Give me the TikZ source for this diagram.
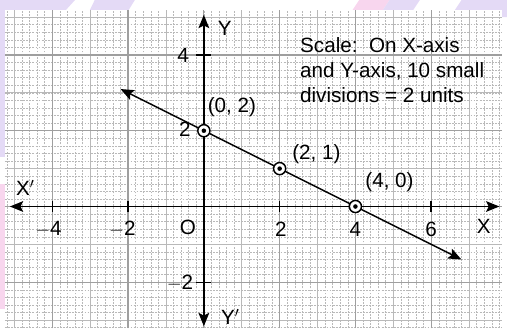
\documentclass[tikz,border=0pt]{standalone}
\usepackage{fontspec}
\setmainfont{Liberation Sans}
\usetikzlibrary{arrows.meta, positioning}
\definecolor{wmlav}{RGB}{228,218,246}
\definecolor{wmpink}{RGB}{248,214,238}

\begin{document}
\begin{tikzpicture}[
    txt/.style={font=\fontsize{15.5}{18.7}\selectfont, inner sep=1pt},
    finegrid/.style={draw=gray!55, line width=0.4pt, dash pattern=on 1.4pt off 0.9pt},
    midgrid/.style={draw=gray!55, line width=0.6pt},
    boldgrid/.style={draw=gray!75, line width=0.9pt},
    axis/.style={line width=1.4pt,
                 {Stealth[length=10pt,width=8pt,inset=2pt]}-{Stealth[length=10pt,width=8pt,inset=2pt]}},
    graphline/.style={line width=1.1pt,
                 {Stealth[length=10pt,width=8pt,inset=2pt]}-{Stealth[length=10pt,width=8pt,inset=2pt]}},
    tickmark/.style={line width=1.1pt},
    pt/.style={circle, draw, fill=white, line width=1.1pt, inner sep=0pt, minimum size=0.32cm}
]
\useasboundingbox (-5.38,-3.21) rectangle (8.0,5.45);

% watermark in the margins
\fill[wmlav]  (-5.38,5.45) -- (-3.4,5.45) -- (-3.9,4.9) -- (-5.38,4.9) -- cycle;
\fill[wmlav]  (-5.38,5.45) rectangle (-5.2,1.3);
\fill[wmpink] (-5.38,0.6) rectangle (-5.2,-2.7);
\fill[wmlav]  (-2.88,5.45) -- (-1.82,5.45) -- (-2.1,5.0) -- (-3.1,5.0) -- cycle;
\fill[wmpink] (4.1,5.45) -- (4.9,5.45) -- (4.6,5.0) -- (3.8,5.0) -- cycle;
\fill[wmlav]  (4.9,5.45) -- (5.7,5.45) -- (5.4,5.0) -- (4.6,5.0) -- cycle;
\fill[wmlav]  (6.8,5.45) -- (8.0,5.45) -- (8.0,5.0) -- (6.5,5.0) -- cycle;

% graph paper
\fill[white] (-5.25,-3.21) rectangle (7.87,5.18);
\draw[finegrid] (-5.25,-3.21) grid[step=0.2] (7.87,5.18);
\draw[midgrid]  (-5.25,-3.21) grid[step=1] (7.87,5.18);
\draw[boldgrid] (-5.25,-3.21) grid[step=2] (7.87,5.18);

% axes
\coordinate (xl) at (-5.12,0);
\coordinate (xr) at (7.8,0);
\coordinate (yt) at (0,5.06);
\coordinate (yb) at (0,-3.16);
\draw[axis] (xl) -- (xr);
\draw[axis] (yb) -- (yt);

\foreach \x in {-4,-2,2,6}
    \draw[tickmark] (\x,-0.15) -- (\x,0.15);
\foreach \y in {4,-2}
    \draw[tickmark] (-0.2,\y) -- (0.2,\y);

\node[txt] (lx)  at (7.39,-0.53) {X};
\node[txt] (lx') at (-4.71,0.5)  {X$'$};
\node[txt] (ly)  at (0.55,4.71)  {Y};
\node[txt] (ly') at (0.7,-2.92)  {Y$'$};
\node[txt] (lo)  at (-0.42,-0.55) {O};

\node[txt] (xm4) at (-4.1,-0.6)  {$-$4};
\node[txt] (xm2) at (-2.15,-0.6) {$-$2};
\node[txt] (x2)  at (2.03,-0.6)  {2};
\node[txt] (x4)  at (4.0,-0.6)   {4};
\node[txt] (x6)  at (6.0,-0.6)   {6};
\node[txt] (y4)  at (-0.55,4.0)  {4};
\node[txt] (y2)  at (-0.5,2.03)  {2};
\node[txt] (ym2) at (-0.63,-2.03) {$-$2};

% the line and its points
\coordinate (lstart) at (-2.2,3.1);
\coordinate (lend)   at (6.8,-1.4);
\draw[graphline] (lstart) -- (lend);

\node[pt] (p1) at (0,2) {};
\node[pt] (p2) at (2,1) {};
\node[pt] (p3) at (4,0) {};
\foreach \p in {p1,p2,p3}
    \fill (\p) circle (0.06);

\node[txt] (lp1) at (0.74,2.63) {(0, 2)};
\node[txt] (lp2) at (2.97,1.37) {(2, 1)};
\node[txt] (lp3) at (4.9,0.63)  {(4, 0)};

\node[txt, anchor=west, align=left] (scale) at (2.5,3.6)
    {Scale:\ \ On X-axis\\and Y-axis, 10 small\\divisions = 2 units};

\end{tikzpicture}
\end{document}
